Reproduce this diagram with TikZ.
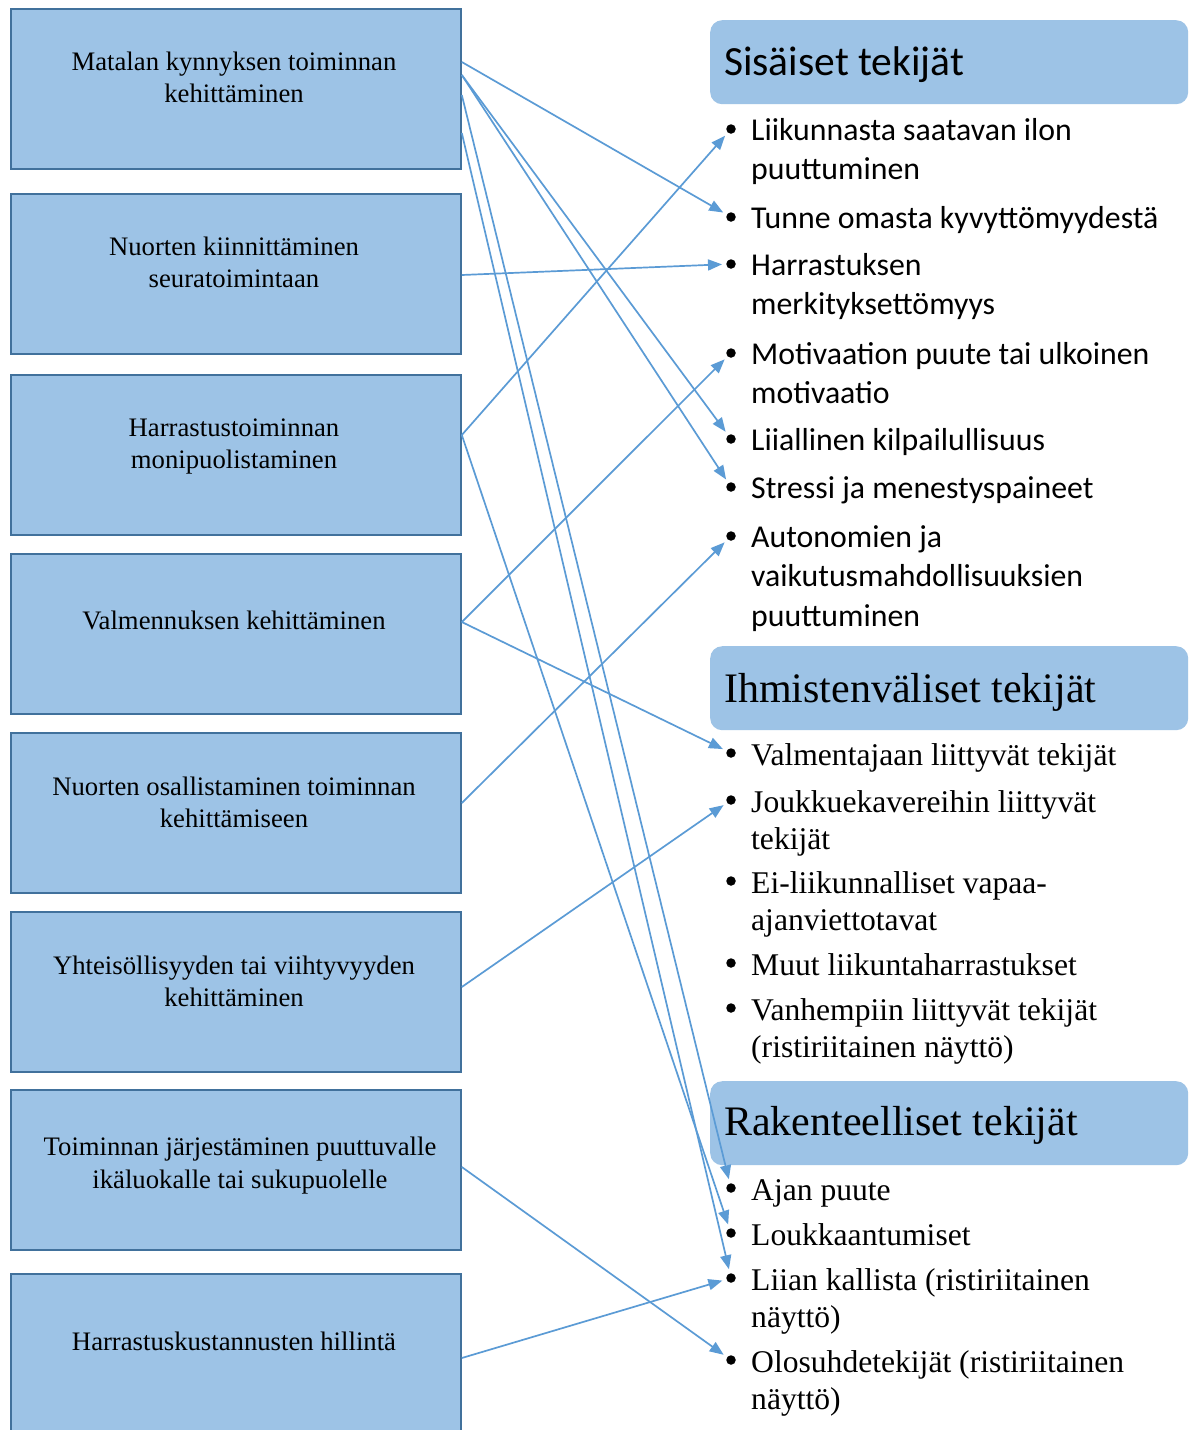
\documentclass[tikz,border=0pt]{standalone}
\usepackage{fontspec}
\setmainfont{Liberation Serif}
\newfontfamily\calfont{Carlito}
\usetikzlibrary{arrows.meta}
\definecolor{boxfill}{HTML}{9DC3E6}
\definecolor{boxline}{HTML}{41719C}
\definecolor{arrowc}{HTML}{5B9BD5}
\newcommand{\mylines}[2]{\begin{tabular}[t]{@{}#1@{}}#2\end{tabular}}
\begin{document}
\begin{tikzpicture}[x=1pt,y=-1pt,
  leftbox/.style={draw=boxline, line width=1.8pt, fill=boxfill, minimum width=450pt, minimum height=160pt, inner sep=0pt, anchor=north west},
  boxtext/.style={anchor=base, inner sep=0pt, font=\fontsize{26.7}{32}\selectfont},
  header/.style={fill=boxfill, rounded corners=12pt, minimum width=478pt, minimum height=84pt, anchor=north west, inner sep=0pt},
  headtext/.style={anchor=base west, inner sep=0pt},
  calitem/.style={anchor=base west, inner sep=0pt, font=\calfont\fontsize{31.8}{39.5}\selectfont},
  seritem/.style={anchor=base west, inner sep=0pt, font=\fontsize{31.6}{37.5}\selectfont},
  bdot/.style={circle, fill=black, inner sep=0pt, minimum size=9.5pt},
  conn/.style={draw=arrowc, line width=1.7pt, -{Triangle[length=14pt,width=11pt]}, shorten >=9pt}]
\useasboundingbox (0,0) rectangle (1190,1430);
\fill[white] (0,0) rectangle (1190,1430);

% left boxes
\node[leftbox] (b1) at (10,8) {};
\node[leftbox] (b2) at (10,193) {};
\node[leftbox] (b3) at (10,374) {};
\node[leftbox] (b4) at (10,553) {};
\node[leftbox] (b5) at (10,732) {};
\node[leftbox] (b6) at (10,911) {};
\node[leftbox] (b7) at (10,1089) {};
\node[leftbox] (b8) at (10,1273) {};

\node[boxtext] (t1) at (234,70) {\mylines{c}{Matalan kynnyksen toiminnan\\kehittäminen}};
\node[boxtext] (t2) at (234,255) {\mylines{c}{Nuorten kiinnittäminen\\seuratoimintaan}};
\node[boxtext] (t3) at (234,436) {\mylines{c}{Harrastustoiminnan\\monipuolistaminen}};
\node[boxtext] (t4) at (234,629) {Valmennuksen kehittäminen};
\node[boxtext] (t5) at (234,795) {\mylines{c}{Nuorten osallistaminen toiminnan\\kehittämiseen}};
\node[boxtext] (t6) at (234,974) {\mylines{c}{Yhteisöllisyyden tai viihtyvyyden\\kehittäminen}};
\node[boxtext,font=\fontsize{26.7}{33}\selectfont] (t7) at (240,1155) {\mylines{c}{Toiminnan järjestäminen puuttuvalle\\ikäluokalle tai sukupuolelle}};
\node[boxtext] (t8) at (234,1350) {Harrastuskustannusten hillintä};

% headers
\node[header] (hs) at (710,20) {};
\node[header] (hh) at (710,646) {};
\node[header] (hr) at (710,1081) {};
\node[headtext, font=\calfont\fontsize{41.5}{48}\selectfont] (hst) at (724,75) {Sisäiset tekijät};
\node[headtext, font=\fontsize{42}{48}\selectfont] (hht) at (724,702) {Ihmistenväliset tekijät};
\node[headtext, font=\fontsize{42}{48}\selectfont] (hrt) at (724,1135) {Rakenteelliset tekijät};

% Sisäiset items
\node[calitem] (s1) at (751,140) {\mylines{l}{Liikunnasta saatavan ilon\\puuttuminen}};
\node[calitem] (s2) at (751,228) {Tunne omasta kyvyttömyydestä};
\node[calitem] (s3) at (751,275) {\mylines{l}{Harrastuksen\\merkityksettömyys}};
\node[calitem] (s4) at (751,364) {\mylines{l}{Motivaation puute tai ulkoinen\\motivaatio}};
\node[calitem] (s5) at (751,450) {Liiallinen kilpailullisuus};
\node[calitem] (s6) at (751,498) {Stressi ja menestyspaineet};
\node[calitem] (s7) at (751,547) {\mylines{l}{Autonomien ja\\vaikutusmahdollisuuksien\\puuttuminen}};
\node[bdot] (ds1) at (731,129) {};
\node[bdot] (ds2) at (731,217) {};
\node[bdot] (ds3) at (731,264) {};
\node[bdot] (ds4) at (731,353) {};
\node[bdot] (ds5) at (731,439) {};
\node[bdot] (ds6) at (731,487) {};
\node[bdot] (ds7) at (731,536) {};

% Ihmistenväliset items
\node[seritem] (h1) at (751,765) {Valmentajaan liittyvät tekijät};
\node[seritem] (h2) at (751,812) {\mylines{l}{Joukkuekavereihin liittyvät\\tekijät}};
\node[seritem] (h3) at (751,893) {\mylines{l}{Ei-liikunnalliset vapaa-\\ajanviettotavat}};
\node[seritem] (h4) at (751,975) {Muut liikuntaharrastukset};
\node[seritem] (h5) at (751,1020) {\mylines{l}{Vanhempiin liittyvät tekijät\\(ristiriitainen näyttö)}};
\node[bdot] (dh1) at (731,753) {};
\node[bdot] (dh2) at (731,800) {};
\node[bdot] (dh3) at (731,881) {};
\node[bdot] (dh4) at (731,963) {};
\node[bdot] (dh5) at (731,1008) {};

% Rakenteelliset items
\node[seritem] (r1) at (751,1200) {Ajan puute};
\node[seritem] (r2) at (751,1245) {Loukkaantumiset};
\node[seritem] (r3) at (751,1290) {\mylines{l}{Liian kallista (ristiriitainen\\näyttö)}};
\node[seritem] (r4) at (751,1372) {\mylines{l}{Olosuhdetekijät (ristiriitainen\\näyttö)}};
\node[bdot] (dr1) at (731,1188) {};
\node[bdot] (dr2) at (731,1233) {};
\node[bdot] (dr3) at (731,1278) {};
\node[bdot] (dr4) at (731,1360) {};

% connectors
\draw[conn] ([yshift=-54pt]b1.north east) -- (ds2.center);
\draw[conn] ([yshift=-67pt]b1.north east) -- (ds5.center);
\draw[conn] ([yshift=-67pt]b1.north east) -- (ds6.center);
\draw[conn] ([yshift=-87pt]b1.north east) -- (dr1.center);
\draw[conn] ([yshift=-125pt]b1.north east) -- (dr3.center);
\draw[conn] ([yshift=-82pt]b2.north east) -- (ds3.center);
\draw[conn] ([yshift=-61pt]b3.north east) -- (ds1.center);
\draw[conn] ([yshift=-61pt]b3.north east) -- (dr2.center);
\draw[conn] ([yshift=-69pt]b4.north east) -- (ds4.center);
\draw[conn] ([yshift=-69pt]b4.north east) -- (dh1.center);
\draw[conn] ([yshift=-71pt]b5.north east) -- (ds7.center);
\draw[conn] ([yshift=-76pt]b6.north east) -- (dh2.center);
\draw[conn] ([yshift=-78pt]b7.north east) -- (dr4.center);
\draw[conn] ([yshift=-85pt]b8.north east) -- (dr3.center);
\end{tikzpicture}
\end{document}
